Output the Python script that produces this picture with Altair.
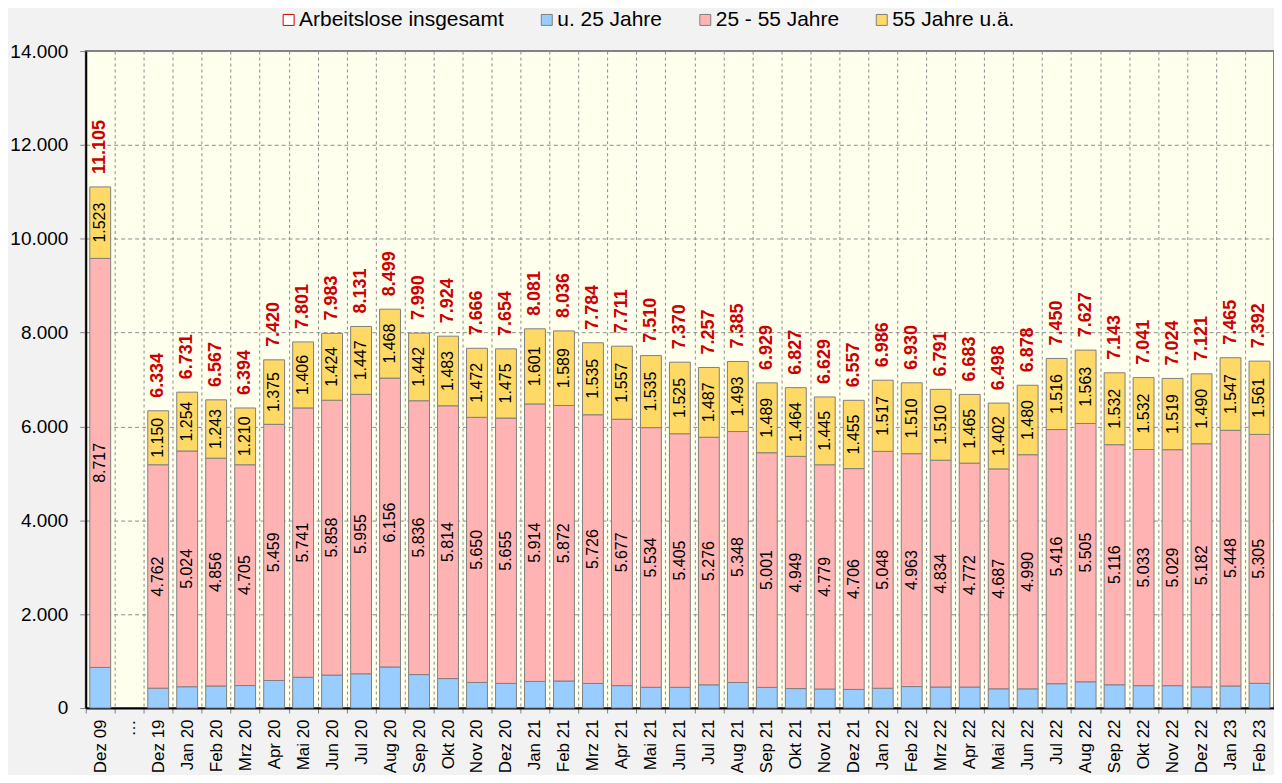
import altair as alt
import pandas as pd

FONT = "Liberation Sans"

categories = ["Dez 09", "…", "Dez 19", "Jan 20", "Feb 20", "Mrz 20", "Apr 20", "Mai 20",
              "Jun 20", "Jul 20", "Aug 20", "Sep 20", "Okt 20", "Nov 20", "Dez 20",
              "Jan 21", "Feb 21", "Mrz 21", "Apr 21", "Mai 21", "Jun 21", "Jul 21",
              "Aug 21", "Sep 21", "Okt 21", "Nov 21", "Dez 21", "Jan 22", "Feb 22",
              "Mrz 22", "Apr 22", "Mai 22", "Jun 22", "Jul 22", "Aug 22", "Sep 22",
              "Okt 22", "Nov 22", "Dez 22", "Jan 23", "Feb 23"]

total = [11105, None, 6334, 6731, 6567, 6394, 7420, 7801, 7983, 8131, 8499, 7990, 7924,
         7666, 7654, 8081, 8036, 7784, 7711, 7510, 7370, 7257, 7385, 6929, 6827, 6629,
         6557, 6986, 6930, 6791, 6683, 6498, 6878, 7450, 7627, 7143, 7041, 7024, 7121,
         7465, 7392]

under25 = [865, None, 422, 453, 468, 479, 586, 654, 701, 729, 875, 712, 627, 544, 524,
           566, 575, 523, 477, 441, 440, 494, 544, 439, 414, 405, 396, 421, 457, 447,
           446, 409, 408, 518, 559, 495, 476, 476, 449, 470, 526]

age25_55 = [8717, None, 4762, 5024, 4856, 4705, 5459, 5741, 5858, 5955, 6156, 5836, 5814,
            5650, 5655, 5914, 5872, 5726, 5677, 5534, 5405, 5276, 5348, 5001, 4949, 4779,
            4706, 5048, 4963, 4834, 4772, 4687, 4990, 5416, 5505, 5116, 5033, 5029, 5182,
            5448, 5305]

age55plus = [1523, None, 1150, 1254, 1243, 1210, 1375, 1406, 1424, 1447, 1468, 1442, 1483,
             1472, 1475, 1601, 1589, 1535, 1557, 1535, 1525, 1487, 1493, 1489, 1464, 1445,
             1455, 1517, 1510, 1510, 1465, 1402, 1480, 1516, 1563, 1532, 1532, 1519, 1490,
             1547, 1561]

series_names = ["Arbeitslose insgesamt", "u. 25 Jahre", "25 - 55 Jahre", "55 Jahre u.ä."]
fill_colors = ["#FFFFFF", "#99CCFF", "#FFB3B3", "#FFD966"]
stroke_colors = ["#CC0000", "#808080", "#808080", "#808080"]
y_ticks = [0, 2000, 4000, 6000, 8000, 10000, 12000, 14000]

rows = []
for i, c in enumerate(categories):
    for order, (name, vals) in enumerate([(series_names[1], under25),
                                          (series_names[2], age25_55),
                                          (series_names[3], age55plus)]):
        if vals[i] is not None:
            rows.append({"cat": c, "series": name, "value": vals[i], "order": order})
seg = pd.DataFrame(rows)
tot = pd.DataFrame({"cat": categories, "total": total}).dropna()

DE_FMT = "replace(format(datum.value, ','), ',', '.')"

x_enc = alt.X(
    "cat:N",
    scale=alt.Scale(domain=categories, paddingInner=0, paddingOuter=0),
    axis=alt.Axis(title=None, labelAngle=270, labelFontSize=17, labelColor="#000000",
                  labelFont=FONT, tickBand="extent", grid=True, gridDash=[3, 3],
                  gridColor="#8c8c8c", gridWidth=1, tickColor="#808080", tickSize=5,
                  labelPadding=6, domainColor="#000000", domainWidth=2),
)

y_scale = alt.Scale(domain=[0, 14000], nice=False)
y_axis = alt.Axis(title=None, values=y_ticks, labelExpr=DE_FMT, labelFontSize=19,
                  labelColor="#000000", labelFont=FONT, grid=True, gridDash=[4, 3],
                  gridColor="#8c8c8c", tickSize=6, tickColor="#808080", labelPadding=12,
                  domainColor="#000000", domainWidth=2)

legend = alt.Legend(orient="none", legendX=193, legendY=-42, direction="horizontal",
                    title=None, symbolType="square", symbolSize=121, labelFontSize=21,
                    labelFont=FONT, labelColor="#000000", columnPadding=32, labelOffset=0,
                    symbolStrokeWidth=1, labelLimit=600)

base_seg = alt.Chart(seg).transform_stack(
    stack="value", groupby=["cat"], as_=["v0", "v1"],
    sort=[alt.SortField("order", order="ascending")],
)

bars = base_seg.mark_bar(width=alt.RelativeBandSize(0.72), strokeWidth=1).encode(
    x=x_enc,
    y=alt.Y("v0:Q", scale=y_scale, axis=y_axis),
    y2="v1:Q",
    fill=alt.Fill("series:N", scale=alt.Scale(domain=series_names, range=fill_colors), legend=legend),
    stroke=alt.Stroke("series:N", scale=alt.Scale(domain=series_names, range=stroke_colors), legend=legend),
)

seg_text = base_seg.transform_filter("datum.order > 0").transform_calculate(
    mid="(datum.v0 + datum.v1) / 2", label=DE_FMT
).mark_text(angle=270, fontSize=16, font=FONT, color="#000000", align="center",
            baseline="middle").encode(
    x=x_enc,
    y=alt.Y("mid:Q", scale=y_scale, axis=y_axis),
    text="label:N",
)

tot_text = alt.Chart(tot).transform_calculate(
    label="replace(format(datum.total, ','), ',', '.')"
).mark_text(angle=270, fontSize=18, fontWeight="bold", font=FONT, color="#CC0000",
            align="left", baseline="middle", dx=13).encode(
    x=x_enc,
    y=alt.Y("total:Q", scale=y_scale, axis=y_axis),
    text="label:N",
)

chart = alt.layer(bars, seg_text, tot_text).properties(
    width=1192, height=659,
    autosize=alt.AutoSizeParams(type="none"),
    padding={"left": 78, "top": 42, "right": 0, "bottom": 66},
    background="#F2F2F2",
).configure(font=FONT).configure_view(fill="#FFFFEE", stroke="#808080", strokeWidth=2)

chart.save("out.html", embed_options={"renderer": "svg", "actions": False})
